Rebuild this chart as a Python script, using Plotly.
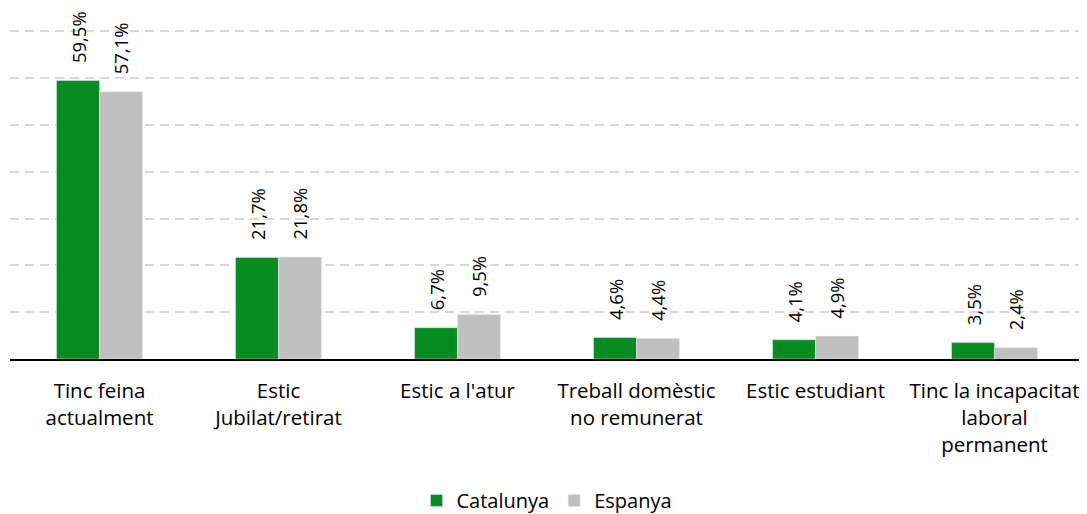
import plotly.graph_objects as go

categories = ["Tinc feina<br>actualment", "Estic<br>Jubilat/retirat", "Estic a l'atur",
              "Treball domèstic<br>no remunerat", "Estic estudiant",
              "Tinc la incapacitat<br>laboral<br>permanent"]
catalunya = [59.5, 21.7, 6.7, 4.6, 4.1, 3.5]
espanya = [57.1, 21.8, 9.5, 4.4, 4.9, 2.4]

def fmt(vals):
    return ["\u00a0\u00a0\u00a0" + f"{v:.1f}".replace(".", ",") + "%" for v in vals]

FONT = "Open Sans"
LBL = dict(size=18.5, color="#000000", family=FONT)
fig = go.Figure()
fig.add_trace(go.Bar(x=categories, y=catalunya, name="Catalunya", marker_color="#078C22",
                     text=fmt(catalunya), textposition="outside", textangle=-90,
                     textfont=LBL, cliponaxis=False, constraintext="none"))
fig.add_trace(go.Bar(x=categories, y=espanya, name="Espanya", marker_color="#BFBFBF",
                     text=fmt(espanya), textposition="outside", textangle=-90,
                     textfont=LBL, cliponaxis=False, constraintext="none"))

fig.update_layout(
    width=1079, height=506, barmode="group", bargap=0.52, bargroupgap=0,
    margin=dict(l=2, r=3, t=22, b=155, autoexpand=False),
    plot_bgcolor="white", paper_bgcolor="white",
    font=dict(family=FONT, size=20.5, color="#000000"),
    legend=dict(orientation="h", x=0.5, xanchor="center", y=-0.43, yanchor="middle",
                font=dict(size=20), traceorder="normal"),
    uniformtext=dict(mode=False),
)
fig.update_xaxes(showline=True, linecolor="#000000", linewidth=1.5, ticks="",
                 tickfont=dict(size=20.5), showgrid=False, automargin=False,
                 ticklabelstandoff=13)
fig.update_yaxes(range=[0, 70.3], dtick=10, showticklabels=False, showgrid=True,
                 gridcolor="#D9D9D9", gridwidth=1.5, griddash="9px,6px", zeroline=False,
                 automargin=False)

fig.write_html("out.html")
